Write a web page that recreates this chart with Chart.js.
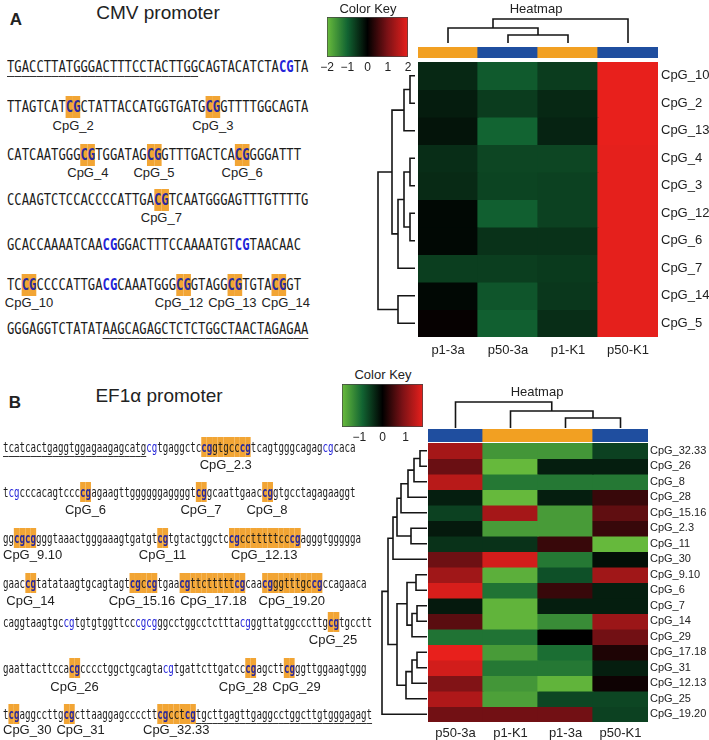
<!DOCTYPE html>
<html><head><meta charset="utf-8">
<script src="https://cdn.jsdelivr.net/npm/chart.js@4.4.1/dist/chart.umd.min.js"></script>
<style>
html,body{margin:0;padding:0;background:#fff;}
#root{position:relative;width:709px;height:740px;overflow:hidden;font-family:"Liberation Sans",Arial,sans-serif;color:#222;background:#fff;}
canvas{position:absolute;}
.t{position:absolute;white-space:nowrap;line-height:1;transform:translate(-50%,-50%);}
.seq{position:absolute;white-space:pre;font-family:"DejaVu Sans Mono",monospace;transform-origin:0 50%;color:#1b1b1b;}
.seq span.h{background:#f2a534;padding:2px 0;}
.seq span.hb{color:#2a2a9c;font-weight:bold;}
.seq span.b{color:#2323d8;}
.seq span.bb{color:#2323d8;font-weight:bold;}
.seq span.u{text-decoration:underline;text-decoration-thickness:1.4px;text-underline-offset:4px;text-decoration-color:#333;}
.lbl{position:absolute;white-space:nowrap;font-size:13px;line-height:1.2;transform:translate(-50%,-50%);color:#222;}
</style></head>
<body><div id="root">
<canvas id="keyA" width="105" height="56" style="left:315px;top:17px"></canvas>
<canvas id="cdA" width="240" height="28" style="left:418px;top:15px"></canvas>
<canvas id="cbA" width="240" height="11" style="left:418px;top:47px"></canvas>
<canvas id="rdA" width="39" height="275" style="left:376px;top:62px"></canvas>
<canvas id="hmA" width="291" height="297" style="left:418px;top:62px"></canvas>
<canvas id="keyB" width="105" height="58" style="left:330px;top:384px"></canvas>
<canvas id="cdB" width="220" height="30" style="left:428px;top:398px"></canvas>
<canvas id="cbB" width="220" height="13" style="left:428px;top:429px"></canvas>
<canvas id="rdB" width="47" height="279" style="left:380px;top:443px"></canvas>
<canvas id="hmB" width="281" height="297" style="left:428px;top:443px"></canvas>
</div>
<script>
// ---------------- DATA ----------------
// Panel A (CMV promoter)
const colsA = ['p1-3a','p50-3a','p1-K1','p50-K1'];
const colGroupA = ['p1','p50','p1','p50'];
const rowsA = ['CpG_10','CpG_2','CpG_13','CpG_4','CpG_3','CpG_12','CpG_6','CpG_7','CpG_14','CpG_5'];
const heatA = [
  [-0.40,-0.90,-0.60,2.00],
  [-0.28,-0.60,-0.40,2.00],
  [-0.20,-1.00,-0.35,2.00],
  [-0.45,-0.70,-0.70,1.97],
  [-0.42,-0.68,-0.65,1.97],
  [-0.08,-0.95,-0.65,1.97],
  [-0.08,-0.50,-0.50,1.97],
  [-0.62,-0.62,-0.58,1.97],
  [-0.08,-0.85,-0.55,1.97],
  [ 0.05,-0.95,-0.45,1.97]
];
const keyRangeA = [-2, 2];
const keyTicksA = [-2,-1,0,1,2];
// dendrograms: [childA, childB, height]; children >= n refer to earlier merges
const rowTreeA = [[0,1,0.5],[10,2,1.1],[3,4,0.5],[5,6,0.5],[12,13,1.1],[14,7,1.7],[11,15,2.3],[8,9,1.7],[16,17,3.7]];
const colTreeA = [[1,2,1.0],[0,4,1.875],[5,3,3.0]];

// Panel B (EF1a promoter)
const colsB = ['p50-3a','p1-K1','p1-3a','p50-K1'];
const colGroupB = ['p50','p1','p1','p50'];
const rowsB = ['CpG_32.33','CpG_26','CpG_8','CpG_28','CpG_15.16','CpG_2.3','CpG_11','CpG_30','CpG_9.10','CpG_6','CpG_7','CpG_14','CpG_29','CpG_17.18','CpG_31','CpG_12.13','CpG_25','CpG_19.20'];
const heatB = [
  [ 1.20,-1.37,-1.37,-0.57],
  [ 0.74,-1.72,-0.26,-0.26],
  [ 1.36,-1.07,-1.07,-1.07],
  [-0.26,-1.72,-0.26, 0.39],
  [-0.57, 1.20,-1.42, 0.67],
  [-0.22,-1.42,-1.42, 0.39],
  [-0.44,-0.44, 0.39,-1.72],
  [ 0.77, 1.57,-1.07,-0.13],
  [ 1.16,-1.62,-0.70, 1.16],
  [ 1.61,-1.02, 0.39,-0.26],
  [-0.22,-1.67,-0.26,-0.26],
  [ 0.63,-1.67,-1.27, 1.12],
  [-1.02,-1.02, 0.00, 0.80],
  [ 1.75,-1.42,-0.97, 0.21],
  [ 1.57,-1.07,-1.07,-0.26],
  [ 0.91,-1.37,-1.67, 0.10],
  [ 1.28,-1.47,-0.61,-0.61],
  [ 0.80, 0.80, 0.80,-0.57]
];
const keyRangeB = [-1.75, 1.75];
const keyTicksB = [-1,0,1];
const rowTreeB = [[0,1,0.7],[18,2,1.3],[19,3,1.9],[20,4,2.6],[5,6,1.6],[21,22,3.0],[23,7,3.4],
  [8,9,1.1],[10,11,1.0],[26,12,1.5],[25,27,2.0],[13,14,1.0],[29,15,1.5],[30,16,2.1],[28,31,3.0],[24,32,3.9],[33,17,4.5]];
const colTreeB = [[2,3,1.0],[1,4,1.7],[0,5,2.6]];

// Sequences
const seqTextA = [
  'TGACCTTATGGGACTTTCCTACTTGGCAGTACATCTACGTA',
  'TTAGTCATCGCTATTACCATGGTGATGCGGTTTTGGCAGTA',
  'CATCAATGGGCGTGGATAGCGGTTTGACTCACGGGGATTT',
  'CCAAGTCTCCACCCCATTGACGTCAATGGGAGTTTGTTTTG',
  'GCACCAAAATCAACGGGACTTTCCAAAATGTCGTAACAAC',
  'TCCGCCCCATTGACGCAAATGGGCGGTAGGCGTGTACGGT',
  'GGGAGGTCTATATAAGCAGAGCTCTCTGGCTAACTAGAGAA'
];
const seqSitesA = [ [], [[8,2,'CpG_2'],[27,2,'CpG_3']], [[10,2,'CpG_4'],[19,2,'CpG_5'],[31,2,'CpG_6']],
  [[20,2,'CpG_7']], [], [[2,2,'CpG_10'],[23,2,'CpG_12'],[30,2,'CpG_13'],[36,2,'CpG_14']], [] ];
const seqBlueA = [[37],[],[],[],[13,31],[13],[]];
const seqUnderA = [[0,26],null,null,null,null,null,[13,41]];

const seqTextB = [
  'tcatcactgaggtggagaagagcatgcgtgaggctccggtgcccgtcagtgggcagagcgcaca',
  'tcgcccacagtccccgagaagttggggggaggggtcggcaattgaaccggtgcctagagaaggt',
  'ggcgcggggtaaactgggaaagtgatgtcgtgtactggctccgcctttttcccgagggtggggga',
  'gaaccgtatataagtgcagtagtcgccgtgaacgttctttttcgcaacgggtttgccgccagaaca',
  'caggtaagtgccgtgtgtggttcccgcgggcctggcctctttacgggttatggcccttgcgtgcctt',
  'gaattacttccacgcccctggctgcagtacgtgattcttgatcccgagcttcgggttggaagtggg',
  'tcgaggccttgcgcttaaggagccccttcgcctcgtgcttgagttgaggcctggcttgtgggagagt'
];
const seqSitesB = [ [[36,9,'CpG_2.3']], [[14,2,'CpG_6'],[35,2,'CpG_7'],[47,2,'CpG_8']],
  [[2,4,'CpG_9.10'],[28,2,'CpG_11'],[41,13,'CpG_12.13']],
  [[4,2,'CpG_14'],[23,5,'CpG_15.16'],[32,12,'CpG_17.18'],[47,11,'CpG_19.20']],
  [[59,2,'CpG_25']], [[12,2,'CpG_26'],[44,2,'CpG_28'],[51,2,'CpG_29']],
  [[1,2,'CpG_30'],[11,2,'CpG_31'],[28,7,'CpG_32.33']] ];
const seqBlueB = [[26,58],[1],[],[],[11,24,26,43],[29],[]];
const seqUnderB = [[0,26],null,null,null,null,null,[35,67]];

// ---------------- LAYOUT / STYLE ----------------
const FONT = '"Liberation Sans", Arial, sans-serif';
const GROUP_COLORS = {p1:'#f2a022', p50:'#1f4e9f'};
const root = document.getElementById('root');

function addText(txt, cx, cy, size, weight){
  const d = document.createElement('div');
  d.className = 't';
  d.textContent = txt;
  d.style.left = cx+'px'; d.style.top = cy+'px';
  d.style.fontSize = size+'px';
  if (weight) d.style.fontWeight = weight;
  root.appendChild(d);
}

addText('A', 16, 19, 17, 'bold');
addText('CMV promoter', 158, 12, 19);
addText('Color Key', 368, 8, 13);
addText('Heatmap', 536, 8, 13);
addText('B', 15, 402, 17, 'bold');
addText('EF1\u03b1 promoter', 159, 395, 19);
addText('Color Key', 383, 374, 13);
addText('Heatmap', 537, 391, 13);

function seqBlock(texts, sites, blues, unders, x0, ys, labYs, fontPx, pitch, bold){
  const adv = fontPx*0.6021, k = pitch/adv;
  texts.forEach((s, li) => {
    const cls = new Array(s.length).fill('');
    const hl = new Array(s.length).fill(false);
    sites[li].forEach(([st, len]) => {
      for (let j=st;j<st+len;j++){ hl[j]=true; }
      for (let j=st;j<st+len-1;j++){
        if (s.substr(j,2).toLowerCase()==='cg'){ cls[j]='hb'; cls[j+1]='hb'; }
      }
    });
    blues[li].forEach(b => { cls[b]= bold?'bb':'b'; cls[b+1]= bold?'bb':'b'; });
    const ul = unders[li];
    let html='';
    for (let j=0;j<s.length;j++){
      const c = [cls[j]];
      if (hl[j]) c.push('h');
      if (ul && j>=ul[0] && j<ul[1]) c.push('u');
      html += '<span class="'+c.join(' ').trim()+'">'+s[j]+'</span>';
    }
    const d = document.createElement('div');
    d.className='seq';
    d.innerHTML = html;
    d.style.fontSize = fontPx+'px';
    d.style.lineHeight = '20px';
    d.style.left = x0+'px';
    d.style.top = (ys[li]-10)+'px';
    d.style.transform = 'scaleX('+k+')';
    root.appendChild(d);
    // labels under the CpG sites, spread apart when they would overlap
    const labs = sites[li].map(([st, len, name]) => {
      const l = document.createElement('div');
      l.className='lbl'; l.textContent = name;
      root.appendChild(l);
      return {el:l, cx: x0 + (st + len/2)*pitch, w: l.getBoundingClientRect().width};
    });
    for (let it=0; it<60; it++){
      for (let i=0;i<labs.length-1;i++){
        const a=labs[i], b=labs[i+1];
        const need = (a.w+b.w)/2 + 5 - (b.cx - a.cx);
        if (need>0){ a.cx -= need/2; b.cx += need/2; }
      }
      if (labs.length && labs[0].cx - labs[0].w/2 < 3) labs[0].cx = 3 + labs[0].w/2;
    }
    labs.forEach(o => { o.el.style.left = o.cx+'px'; o.el.style.top = labYs[li]+'px'; });
  });
}
seqBlock(seqTextA, seqSitesA, seqBlueA, seqUnderA, 7, [67,107,155,200,245,285,329], [85,126,173,218,263,303,347], 15, 7.35, true);
seqBlock(seqTextB, seqSitesB, seqBlueB, seqUnderB, 3, [447,492,538,583,622,668,714], [465,510,555,601,640,687,730], 13.5, 5.5, false);

// ---------------- CHARTS ----------------
function heatColor(v, max){
  let t = Math.max(-1, Math.min(1, v/max));
  const neg = [[0,0,0],[18,100,50],[105,188,60]];
  const pos = [[0,0,0],[125,18,22],[232,32,28]];
  const st = t<0 ? neg : pos; t = Math.abs(t);
  let a,b,s;
  if (t<=0.5){a=st[0];b=st[1];s=t/0.5;} else {a=st[1];b=st[2];s=(t-0.5)/0.5;}
  const c = a.map((x,i)=>Math.round(x+(b[i]-x)*s));
  return 'rgb('+c.join(',')+')';
}
const base = {responsive:false, animation:false, devicePixelRatio:1, events:[],
  plugins:{legend:{display:false}, tooltip:{enabled:false}, title:{display:false}},
  layout:{padding:0}};
const noPad = s => { s.paddingTop=0; s.paddingBottom=0; s.paddingLeft=0; s.paddingRight=0; };

function heatmap(id, cols, rows, vals, max, rightW, bottomH, rowFont, rowPad, colPad){
  new Chart(document.getElementById(id), {
    type:'bar',
    data:{labels:cols, datasets: rows.map((r,i)=>({
      label:r, data: cols.map(()=>[i,i+1]),
      backgroundColor: vals[i].map(v=>heatColor(v,max)),
      grouped:false, barPercentage:1, categoryPercentage:1, borderWidth:0, borderSkipped:false, inflateAmount:0.6
    }))},
    options:{...base, scales:{
      x:{grid:{display:false,drawTicks:false}, border:{display:false},
         ticks:{font:{family:FONT,size:13}, color:'#222', padding:colPad, maxRotation:0, autoSkip:false},
         afterFit:s=>{s.height=bottomH; noPad(s);}},
      y:{type:'linear', position:'right', min:0, max:rows.length, reverse:true,
         grid:{display:false,drawTicks:false}, border:{display:false},
         afterBuildTicks:s=>{s.ticks=rows.map((_,i)=>({value:i+0.5}));},
         ticks:{autoSkip:false, font:{family:FONT,size:rowFont}, color:'#222', padding:rowPad, callback:(v,i)=>rows[i]},
         afterFit:s=>{s.width=rightW; noPad(s);}}
    }}
  });
}
function colorBar(id, cols, groups){
  new Chart(document.getElementById(id), {
    type:'bar',
    data:{labels:cols, datasets:[{data:cols.map(()=>[0,1]), backgroundColor:groups.map(g=>GROUP_COLORS[g]),
      barPercentage:1, categoryPercentage:1, borderWidth:0, inflateAmount:0.6}]},
    options:{...base, scales:{x:{display:false}, y:{display:false, min:0, max:1}}}
  });
}
function dendro(id, n, merges, max, orient){
  const pos=[], ht=[];
  for (let i=0;i<n;i++){pos.push(i+0.5); ht.push(0);}
  const lines=[];
  merges.forEach(([a,b,h])=>{
    lines.push([[pos[a],ht[a]],[pos[a],h],[pos[b],h],[pos[b],ht[b]]]);
    pos.push((pos[a]+pos[b])/2); ht.push(h);
  });
  const ds = lines.map(l=>({data:l.map(([p,h])=> orient==='top'?{x:p,y:h}:{x:h,y:p}),
    showLine:true, borderColor:'#151515', borderWidth:1.6, pointRadius:0, clip:false, tension:0, fill:false}));
  const sc = orient==='top'
    ? {x:{type:'linear',min:0,max:n,display:false}, y:{type:'linear',min:0,max:max,display:false}}
    : {x:{type:'linear',min:0,max:max,reverse:true,display:false}, y:{type:'linear',min:0,max:n,reverse:true,display:false}};
  new Chart(document.getElementById(id), {type:'scatter', data:{datasets:ds}, options:{...base, scales:sc}});
}
function keyChart(id, range, ticks, axisH){
  const [mn, mx] = range;
  new Chart(document.getElementById(id), {
    type:'bar',
    data:{labels:[''], datasets:[{data:[[mn,mx]],
      backgroundColor:(ctx)=>{
        const ca = ctx.chart.chartArea; if(!ca) return '#000';
        const g = ctx.chart.ctx.createLinearGradient(ca.left,0,ca.right,0);
        for (let i=0;i<=20;i++){ const p=i/20; g.addColorStop(p, heatColor(mn+p*(mx-mn), mx)); }
        return g;
      },
      borderColor:'#444', borderWidth:1, borderSkipped:false, barPercentage:1, categoryPercentage:1}]},
    options:{...base, indexAxis:'y', layout:{padding:{left:12,right:12,top:0,bottom:0}},
      scales:{
        x:{type:'linear', min:mn, max:mx, grid:{display:false,drawTicks:false}, border:{display:false},
           afterBuildTicks:s=>{s.ticks=ticks.map(v=>({value:v}));},
           ticks:{font:{family:FONT,size:12}, color:'#222', padding:3, autoSkip:false, maxRotation:0,
             callback:v=> v<0 ? '\u2212'+Math.abs(v) : String(v)},
           afterFit:s=>{s.height=axisH; noPad(s);}},
        y:{display:false}
      }}
  });
}

keyChart('keyA', keyRangeA, keyTicksA, 16);
dendro('cdA', colsA.length, colTreeA, 3.5, 'top');
colorBar('cbA', colsA, colGroupA);
dendro('rdA', rowsA.length, rowTreeA, 3.9, 'left');
heatmap('hmA', colsA, rowsA, heatA, 2, 51, 22, 13, 3, 6);

keyChart('keyB', keyRangeB, keyTicksB, 15);
dendro('cdB', colsB.length, colTreeB, 3.0, 'top');
colorBar('cbB', colsB, colGroupB);
dendro('rdB', rowsB.length, rowTreeB, 4.7, 'left');
heatmap('hmB', colsB, rowsB, heatB, 1.75, 61, 18, 11, 2, 4);
</script>
</body></html>
